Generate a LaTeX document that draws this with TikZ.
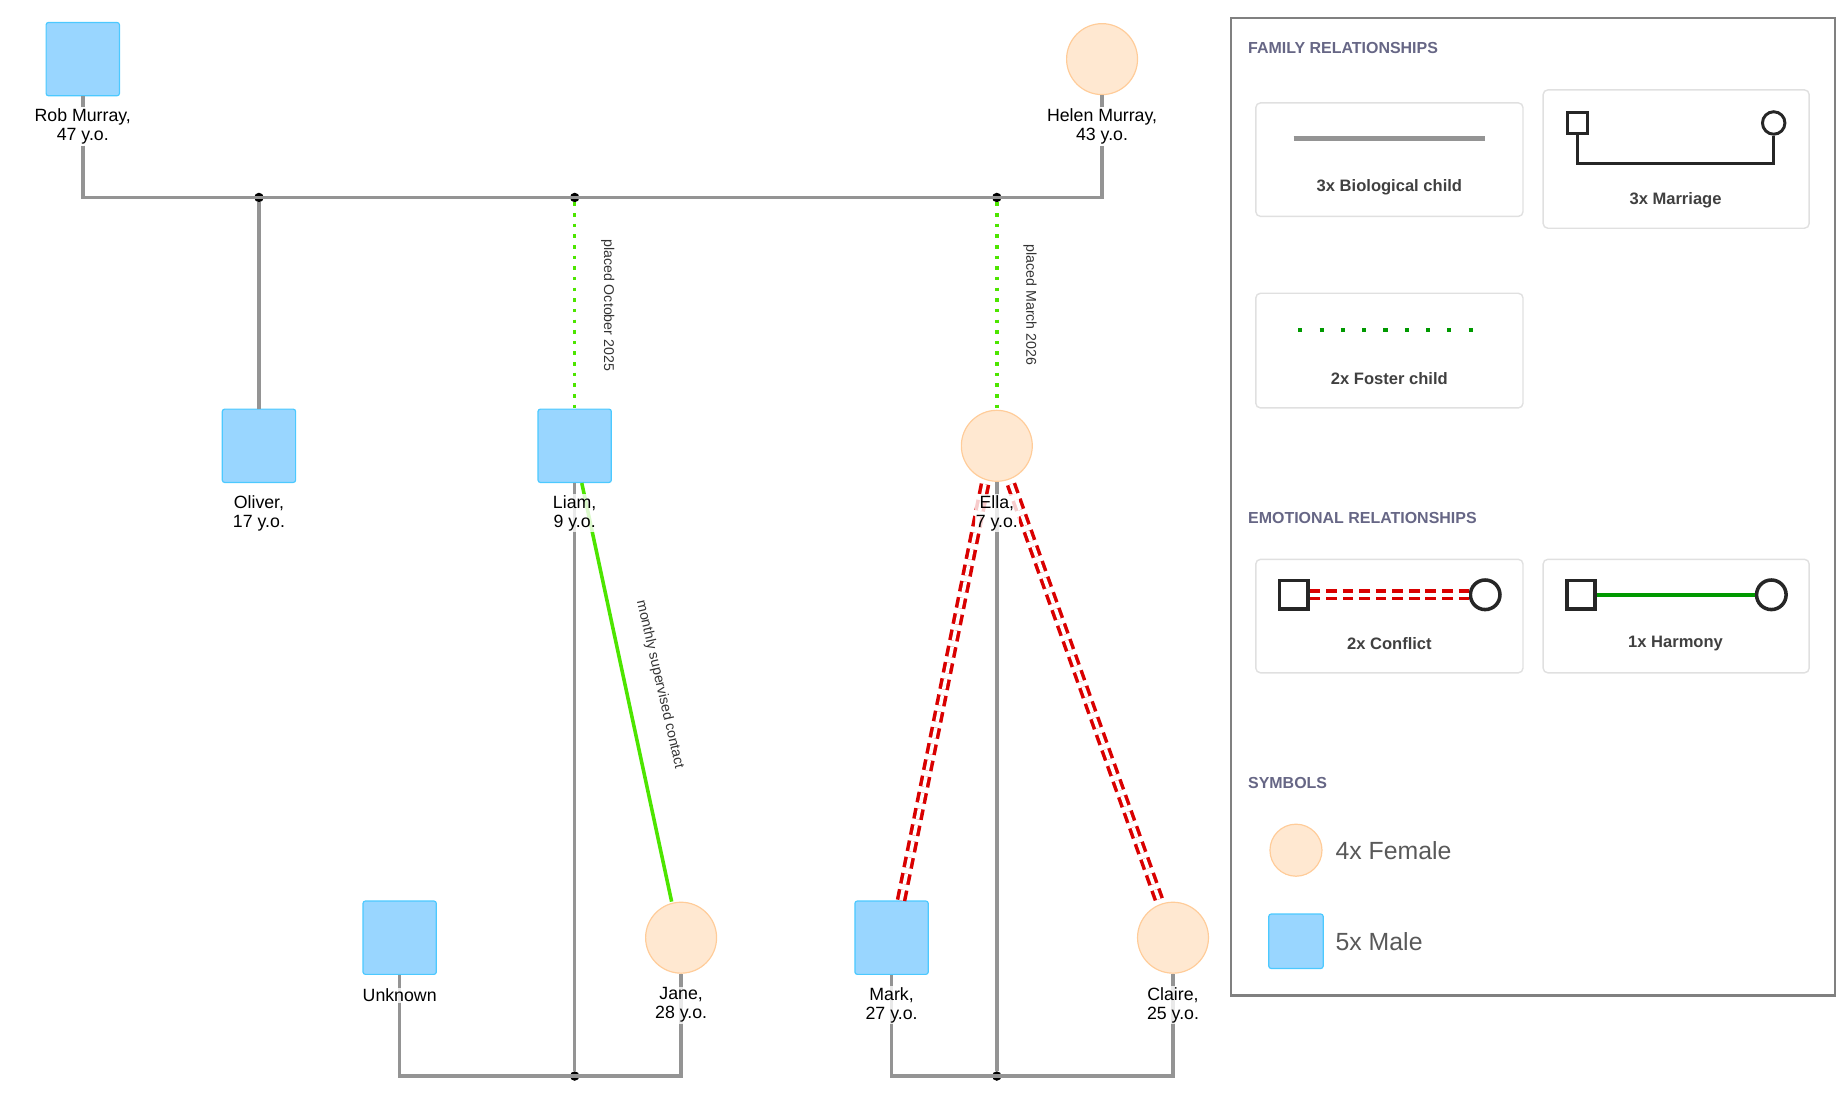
\documentclass[tikz,border=0pt]{standalone}
\usepackage{fontspec}
\setmainfont{Liberation Sans}
\begin{document}
\begin{tikzpicture}[x=1pt,y=-1pt,
  male/.style={draw=blue!30!cyan!70!white,fill=blue!40!cyan!40!white,line width=1,minimum size=62,rounded corners=2,inner sep=0},
  female/.style={circle,draw=orange!40,fill=orange!18,line width=1,minimum size=60,inner sep=0},
  lab/.style={font=\fontsize{15}{16}\selectfont,align=center,fill=white,fill opacity=0.8,text opacity=1,inner sep=1},
  rlab/.style={font=\fontsize{12}{13}\selectfont,text=black!80},
  bio/.style={draw=black!42,line width=3},
  foster/.style={draw=green!55!lime!90!black,line width=3,dash pattern=on 3 off 6},
  harm/.style={draw=green!55!lime!90!black,line width=3},
  confl/.style={draw=red!85!black,double=white,double distance=3,line width=3,dash pattern=on 9 off 5},
  jdot/.style={circle,fill=black,inner sep=0,minimum size=8},
  card/.style={draw=black!12,line width=1.2,rounded corners=4},
  head/.style={font=\fontsize{13.5}{14}\bfseries\selectfont,text=black!40!blue!20!gray,anchor=west},
  ctext/.style={font=\fontsize{14}{15}\bfseries\selectfont,text=black!75},
]
\useasboundingbox (0,0) rectangle (1562,932);
% people
\node[male] (rob) at (70,50) {};
\node[lab] (robl) at (70,107) {Rob Murray,\\47 y.o.};
\node[female] (helen) at (932,50) {};
\node[lab] (helenl) at (932,107) {Helen Murray,\\43 y.o.};
\node[male] (oliver) at (219,377) {};
\node[male] (liam) at (486,377) {};
\node[female] (ella) at (843,377) {};
\node[male] (unknown) at (338,793) {};
\node[female] (jane) at (576,793) {};
\node[male] (mark) at (754,793) {};
\node[female] (claire) at (992,793) {};
% junctions
\coordinate (tl) at (70,167); \coordinate (tr) at (932,167);
\node[jdot] (j1) at (219,167) {};
\node[jdot] (j2) at (486,167) {};
\node[jdot] (j3) at (843,167) {};
\coordinate (bl1) at (338,910); \coordinate (br1) at (576,910);
\coordinate (bl2) at (754,910); \coordinate (br2) at (992,910);
\node[jdot] (j4) at (486,910) {};
\node[jdot] (j5) at (843,910) {};
% lines
\draw[bio] (robl.south) -- (tl) -- (tr) -- (helenl.south);
\draw[bio] (robl.north) -- (rob.south);
\draw[bio] (helenl.north) -- (helen.south);
\draw[bio] (j1) -- (oliver.north);
\draw[foster] (j2) -- (liam.north);
\draw[foster] (j3) -- (ella.north);
\draw[bio] (unknown.south) -- (bl1) -- (br1) -- (jane.south);
\draw[bio] (mark.south) -- (bl2) -- (br2) -- (claire.south);
\draw[bio] (liam.south) -- (j4);
\draw[bio] (ella.south) -- (j5);
\draw[harm] ([xshift=6]liam.south) -- ([xshift=-8]jane.north);
\draw[confl] ([xshift=-10,yshift=-2]ella.south) -- ([xshift=8]mark.north);
\draw[confl] ([xshift=12,yshift=-2]ella.south) -- ([xshift=-12,yshift=2]claire.north);
% person labels
\node[lab] (oliverl) at (219,434) {Oliver,\\17 y.o.};
\node[lab] (liaml) at (486,434) {Liam,\\9 y.o.};
\node[lab] (ellal) at (843,434) {Ella,\\7 y.o.};
\node[lab] (unknownl) at (338,842) {Unknown};
\node[lab] (janel) at (576,850) {Jane,\\28 y.o.};
\node[lab] (markl) at (754,850) {Mark,\\27 y.o.};
\node[lab] (clairel) at (992,850) {Claire,\\25 y.o.};
\node[rlab,rotate=-90] (r1) at (514,258) {placed October 2025};
\node[rlab,rotate=-90] (r2) at (871,258) {placed March 2026};
\node[rlab,rotate=-77] (r3) at (558,579) {monthly supervised contact};
% legend
\draw[draw=black!50,line width=2] (1041,15) rectangle (1552,842);
\node[head] (h1) at (1052,41) {FAMILY RELATIONSHIPS};
\node[head] (h2) at (1052,438) {EMOTIONAL RELATIONSHIPS};
\node[head] (h3) at (1052,662) {SYMBOLS};
\draw[card] (1062,87) rectangle (1288,183);
\draw[card] (1305,76) rectangle (1530,193);
\draw[card] (1062,248) rectangle (1288,345);
\draw[card] (1062,473) rectangle (1288,569);
\draw[card] (1305,473) rectangle (1530,569);
\coordinate (b1) at (1094,117); \coordinate (b2) at (1256,117);
\draw[bio,line width=4] (b1) -- (b2);
\node[ctext] (t1) at (1175,158) {3x Biological child};
\node[draw=black!85,line width=2.5,minimum size=17,inner sep=0] (ms) at (1334,104) {};
\node[circle,draw=black!85,line width=2.5,minimum size=19,inner sep=0] (mc) at (1500,104) {};
\draw[draw=black!85,line width=2.5] (ms.south) |- (1420,138) -| (mc.south);
\node[ctext] (t2) at (1417,169) {3x Marriage};
\coordinate (f1) at (1098,279); \coordinate (f2) at (1254,279);
\draw[draw=green!60!black,line width=3.5,dash pattern=on 3.5 off 14.5] (f1) -- (f2);
\node[ctext] (t3) at (1175,320) {2x Foster child};
\node[draw=black!85,line width=3,minimum size=24,inner sep=0] (cs) at (1094,503) {};
\node[circle,draw=black!85,line width=3,minimum size=25,inner sep=0] (cc) at (1256,503) {};
\draw[confl] (cs.east) -- (cc.west);
\node[ctext] (t4) at (1175,544) {2x Conflict};
\node[draw=black!85,line width=3,minimum size=24,inner sep=0] (hs) at (1337,503) {};
\node[circle,draw=black!85,line width=3,minimum size=25,inner sep=0] (hc) at (1498,503) {};
\draw[draw=green!60!black,line width=3] (hs.east) -- (hc.west);
\node[ctext] (t5) at (1417,544) {1x Harmony};
\node[female,minimum size=44] (sf) at (1096,719) {};
\node[anchor=west,font=\fontsize{21}{22}\selectfont,text=black!65] (sft) at (1126,719) {4x Female};
\node[male,minimum size=46] (sm) at (1096,796) {};
\node[anchor=west,font=\fontsize{21}{22}\selectfont,text=black!65] (smt) at (1126,796) {5x Male};
\end{tikzpicture}
\end{document}
